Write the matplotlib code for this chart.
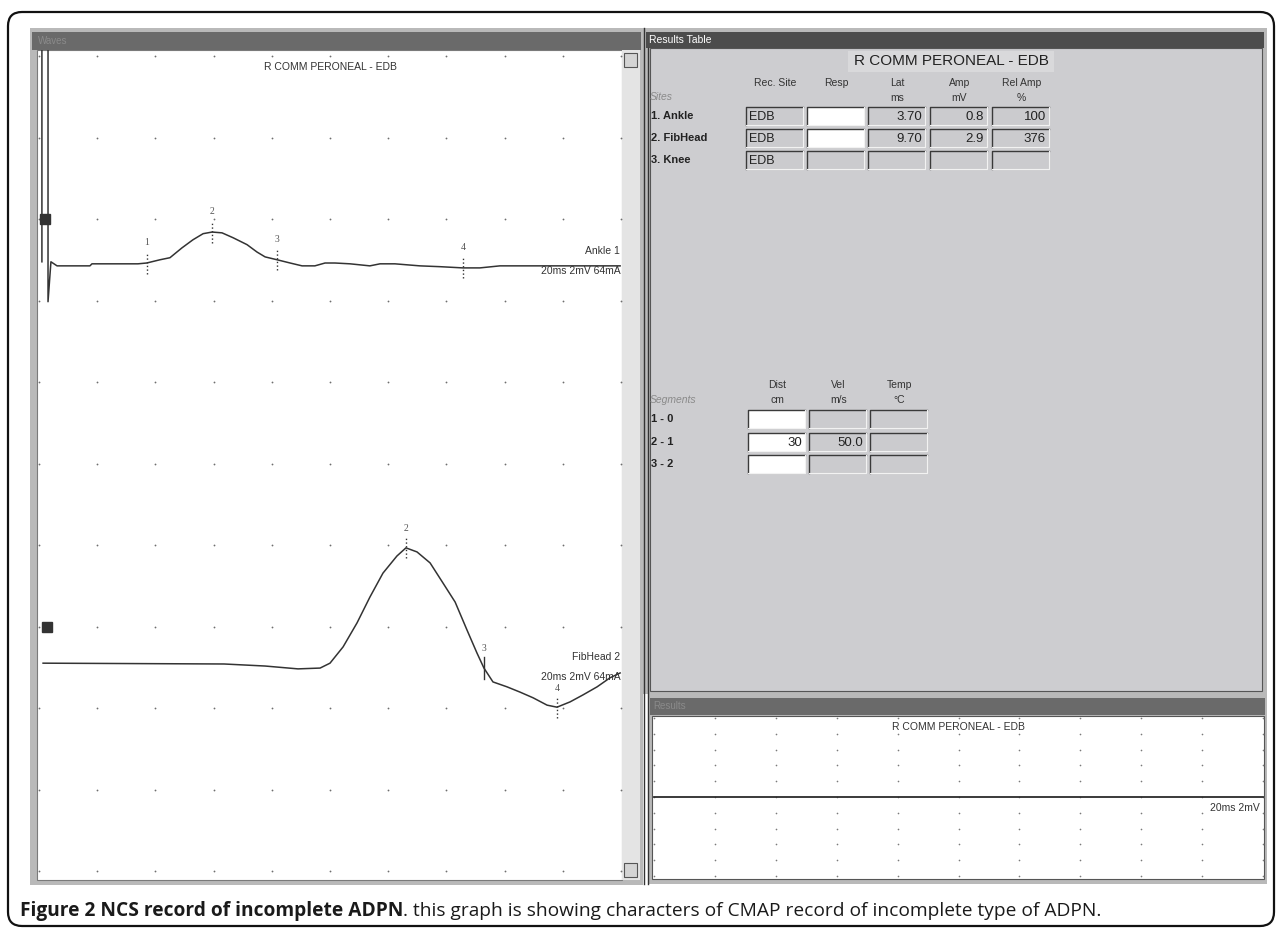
import matplotlib.pyplot as plt
from matplotlib.patches import Rectangle, FancyBboxPatch
import numpy as np

plt.rcParams['font.family'] = ['Liberation Sans', 'DejaVu Sans']

W, H = 1282, 931  # canvas size in pixels

# ---- traces: time in ms, amplitude in mV from baseline ----
ankle_t = [0.10, 0.10, 0.31, 0.31, 0.41, 0.62, 1.75, 1.82, 3.40, 3.70, 4.16, 4.50,
           4.91, 5.29, 5.64, 5.95, 6.29, 6.67, 7.15, 7.49, 7.77, 8.18, 8.63, 9.04,
           9.48, 9.83, 10.17, 10.69, 11.37, 11.72, 12.23, 13.09, 13.78, 14.57, 15.15,
           15.84, 17.22, 19.97]
ankle_mv = [0.10, 5.5, 5.5, -0.88, 0.10, 0.0, 0.0, 0.05, 0.05, 0.07, 0.15, 0.20,
            0.44, 0.64, 0.79, 0.83, 0.81, 0.69, 0.52, 0.34, 0.22, 0.15, 0.07, 0.0,
            0.0, 0.07, 0.07, 0.05, 0.0, 0.05, 0.05, 0.0, -0.02, -0.05, -0.05,
            0.0, 0.0, 0.0]
ankle_mark_t = [3.70, 5.95, 8.18, 14.57]
ankle_mark_lbl = ['1', '2', '3', '4']

fib_t = [0.14, 6.36, 7.77, 8.90, 9.66, 10.00, 10.45, 10.93, 11.37, 11.82, 12.30,
         12.61, 12.99, 13.44, 13.88, 14.30, 14.71, 15.05, 15.29, 15.60, 16.08,
         16.53, 16.98, 17.46, 17.80, 18.25, 18.69, 19.18, 19.62, 19.97]
fib_mv = [0.02, 0.0, -0.05, -0.12, -0.10, 0.02, 0.42, 1.01, 1.64, 2.23, 2.65,
          2.85, 2.75, 2.48, 1.99, 1.52, 0.83, 0.27, -0.10, -0.44, -0.56,
          -0.69, -0.83, -1.01, -1.06, -0.93, -0.76, -0.56, -0.34, -0.22]
fib_mark_t = [12.61, 15.29, 17.80]
fib_mark_lbl = ['2', '3', '4']
fib_mark_ls = [':', '-', ':']

results_t = [0.0, 20.0]
results_mv = [0.0, 0.0]

wave_title = 'R COMM PERONEAL - EDB'
trace_names = ['Ankle 1', 'FibHead 2']
trace_setting = '20ms 2mV 64mA'

# ---- results table ----
site_names = ['1. Ankle', '2. FibHead', '3. Knee']
site_cols = ['Rec. Site', 'Resp', 'Lat\nms', 'Amp\nmV', 'Rel Amp\n%']
rec_site = ['EDB', 'EDB', 'EDB']
resp = ['', '', '']
lat_ms = ['3.70', '9.70', '']
amp_mv = ['0.8', '2.9', '']
rel_amp = ['100', '376', '']

seg_names = ['1 - 0', '2 - 1', '3 - 2']
seg_cols = ['Dist\ncm', 'Vel\nm/s', 'Temp\n°C']
dist_cm = ['', '30', '']
vel_ms = ['', '50.0', '']
temp_c = ['', '', '']

caption_bold = 'Figure 2 NCS record of incomplete ADPN'
caption_rest = '. this graph is showing characters of CMAP record of incomplete type of ADPN.'

fig = plt.figure(figsize=(W / 100, H / 100), dpi=100)
bg = fig.add_axes([0, 0, 1, 1])
bg.set_xlim(0, W)
bg.set_ylim(H, 0)
bg.axis('off')


def box(x0, y0, x1, y1, **kw):
    bg.add_patch(Rectangle((x0, y0), x1 - x0, y1 - y0, **kw))


def field(x, y, w, h, fill):
    # sunken windows edit field
    box(x, y, x + w, y + h, fc=fill, ec='none')
    bg.plot([x, x, x + w], [y + h, y, y], color='#3a3a3a', lw=1.0)
    bg.plot([x, x + w, x + w], [y + h, y + h, y], color='#f2f2f2', lw=0.8)


# outer rounded frame of the figure
bg.add_patch(FancyBboxPatch((8, 12), 1266, 914, boxstyle='round,pad=0,rounding_size=14',
                            fc='white', ec='#111111', lw=1.6))

# left "waves" window
box(30, 28, 643, 885, fc='#b9b9b9', ec='none')
box(32, 32, 641, 50, fc='#6a6a6a', ec='none')
bg.text(38, 41, 'Waves', fontsize=7, color='#8a8a8a', va='center')
box(37, 50, 622, 880, fc='white', ec='#7a7a7a', lw=0.8)
box(622, 50, 640, 880, fc='#e4e4e4', ec='none')
box(624, 53, 637, 67, fc='#d4d4d4', ec='#555555', lw=0.8)
box(624, 863, 637, 877, fc='#d4d4d4', ec='#555555', lw=0.8)

# right "results table" window
box(643, 28, 1267, 694, fc='#b9b9b9', ec='none')
box(646, 32, 1264, 48, fc='#4c4c4c', ec='none')
bg.text(649, 40, 'Results Table', fontsize=7.5, color='white', va='center')
box(650, 48, 1262, 691, fc='#cdcdd0', ec='#555555', lw=0.8)
box(848, 51, 1054, 72, fc='#d9d9db', ec='none')
bg.plot([644, 644], [28, 884], color='#333333', lw=1)
bg.plot([648, 648], [48, 884], color='#333333', lw=1)

# bottom "results" window
box(648, 694, 1267, 884, fc='#b9b9b9', ec='none')
box(650, 698, 1265, 715, fc='#6a6a6a', ec='none')
bg.text(653, 706, 'Results', fontsize=7, color='#8a8a8a', va='center')
box(652, 716, 1264, 879, fc='white', ec='#555555', lw=0.8)

# ---- waveform axes (20 ms sweep, 2 ms/div, 2 mV/div) ----
ax = fig.add_axes([38 / W, 1 - 878 / H, 584 / W, 828 / H])
ms_px = 20 / 582
mv_px = 20 / 815
ax.set_xlim(-1 * ms_px, 20 + 1 * ms_px)
ax.set_ylim(-7 * mv_px, 20 + 6 * mv_px)
ax.axis('off')
gx, gy = np.meshgrid(np.arange(0, 21, 2), np.arange(0, 21, 2))
ax.plot(gx.ravel(), gy.ravel(), ls='none', marker='o', ms=1.3, mec='none', color='#6e6e6e')

ankle_base = 14.85
fib_base = 5.08
chan_sq_t = [0.22, 0.27]
chan_sq_mv = [1.15, 0.91]

ax.plot(ankle_t, np.array(ankle_mv) + ankle_base, color='#333333', lw=1.1)
ax.plot(fib_t, np.array(fib_mv) + fib_base, color='#333333', lw=1.1)

for t, lbl in zip(ankle_mark_t, ankle_mark_lbl):
    v = np.interp(t, ankle_t, ankle_mv) + ankle_base
    ax.plot([t, t], [v - 0.26, v + 0.26], ls=':', color='#333333', lw=1)
    ax.text(t, v + 0.5, lbl, ha='center', va='center', fontsize=7,
            color='#555555', family='Liberation Serif')
for t, lbl, ls in zip(fib_mark_t, fib_mark_lbl, fib_mark_ls):
    v = np.interp(t, fib_t, fib_mv) + fib_base
    ax.plot([t, t], [v - 0.26, v + 0.26], ls=ls, color='#333333', lw=1)
    ax.text(t, v + 0.47, lbl, ha='center', va='center', fontsize=7,
            color='#555555', family='Liberation Serif')

for base, sq_t, sq_v in zip([ankle_base, fib_base], chan_sq_t, chan_sq_mv):
    ax.plot(sq_t, base + sq_v, marker='s', ms=7.5, color='#333333')

ax.text(10, 19.73, wave_title, ha='center', va='center', fontsize=7.5, color='#333333')
ax.text(19.97, ankle_base + 0.36, trace_names[0], ha='right', va='center', fontsize=7.5, color='#333333')
ax.text(19.97, ankle_base - 0.12, trace_setting, ha='right', va='center', fontsize=7.5, color='#333333')
ax.text(19.97, fib_base + 0.17, trace_names[1], ha='right', va='center', fontsize=7.5, color='#333333')
ax.text(19.97, fib_base - 0.32, trace_setting, ha='right', va='center', fontsize=7.5, color='#333333')

# ---- bottom results trace ----
ax2 = fig.add_axes([652 / W, 1 - 879 / H, 612 / W, 163 / H])
ms_px2 = 20 / 609
mv_px2 = 20 / 158
ax2.set_xlim(-2 * ms_px2, 20 + 1 * ms_px2)
ax2.set_ylim(-3 * mv_px2, 20 + 2 * mv_px2)
ax2.axis('off')
ax2.plot(gx.ravel(), gy.ravel(), ls='none', marker='o', ms=1.2, mec='none', color='#7a7a7a')
ax2.plot(results_t, np.array(results_mv) + 10, color='#2b2b2b', lw=1.3)
ax2.text(10, 18.9, wave_title, ha='center', va='center', fontsize=7.5, color='#333333')
ax2.text(19.9, 8.6, '20ms 2mV', ha='right', va='center', fontsize=7.5, color='#333333')

# ---- results table text and fields ----
col_x = [746, 807, 868, 930, 992]
fw, fh = 57, 18
row_y = [107, 129, 151]
bg.text(951, 61, wave_title, ha='center', va='center', fontsize=11, color='#222222')
bg.text(650, 97, 'Sites', fontsize=7.5, style='italic', color='#8a8a8a', va='center')
for cx, name in zip(col_x, site_cols):
    for k, part in enumerate(name.split('\n')):
        bg.text(cx + fw / 2 + 1, 83 + 15 * k, part, ha='center', va='center',
                fontsize=7.5, color='#333333')

site_vals = [rec_site, resp, lat_ms, amp_mv, rel_amp]
resp_white = [True, True, False]
for r, (ry, name) in enumerate(zip(row_y, site_names)):
    bg.text(651, ry + fh / 2, name, fontsize=8, weight='bold', color='#222222', va='center')
    for c, (cx, vals) in enumerate(zip(col_x, site_vals)):
        fill = 'white' if (c == 1 and resp_white[r]) else '#cbcbce'
        field(cx, ry, fw, fh, fill)
        if c == 0:
            bg.text(cx + 3, ry + fh / 2 + 1, vals[r], ha='left', va='center', fontsize=9, color='#222222')
        else:
            bg.text(cx + fw - 3, ry + fh / 2 + 1, vals[r], ha='right', va='center', fontsize=9.5, color='#222222')

seg_y = [410, 433, 455]
bg.text(650, 400, 'Segments', fontsize=7.5, style='italic', color='#8a8a8a', va='center')
for cx, name in zip(col_x[:3], seg_cols):
    for k, part in enumerate(name.split('\n')):
        bg.text(cx + fw / 2 + 3, 385 + 15 * k, part, ha='center', va='center',
                fontsize=7.5, color='#333333')
seg_vals = [dist_cm, vel_ms, temp_c]
for r, (ry, name) in enumerate(zip(seg_y, seg_names)):
    bg.text(651, ry + fh / 2, name, fontsize=8, weight='bold', color='#222222', va='center')
    for c, (cx, vals) in enumerate(zip(col_x[:3], seg_vals)):
        fill = 'white' if c == 0 else '#cbcbce'
        field(cx + 2, ry, fw, fh, fill)
        bg.text(cx + fw - 1, ry + fh / 2 + 1, vals[r], ha='right', va='center', fontsize=9.5, color='#222222')

# ---- caption, sized so it spans the same width as in the figure ----
cap_font = ['Open Sans', 'DejaVu Sans']
cap_y = 1 - 911 / H
fig.canvas.draw()
rend = fig.canvas.get_renderer()
size = 10.0
t1 = fig.text(20 / W, cap_y, caption_bold, fontsize=size, weight='bold',
              family=cap_font, va='center', color='#1a1a1a')
t2 = fig.text(0, cap_y, caption_rest, fontsize=size, family=cap_font,
              va='center', color='#1a1a1a')
total = t1.get_window_extent(rend).width + t2.get_window_extent(rend).width
size = size * 1077 / total
t1.set_fontsize(size)
t2.set_fontsize(size)
t2.set_x(t1.get_window_extent(rend).x1 / W)

fig.savefig('out.png', dpi=100)
